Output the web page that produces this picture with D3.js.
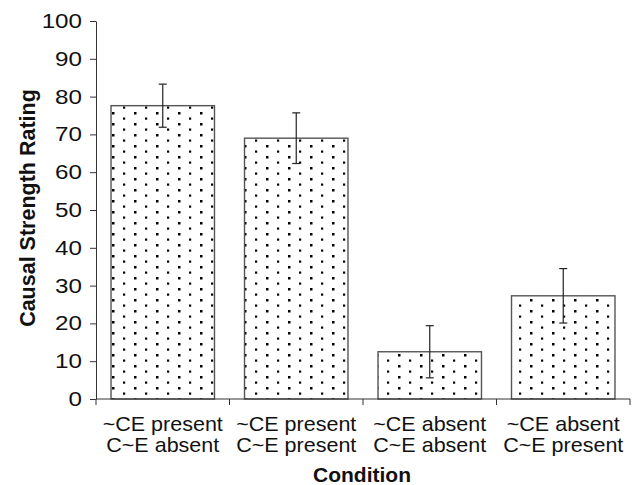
<!DOCTYPE html>
<html>
<head>
<meta charset="utf-8">
<script src="https://cdn.jsdelivr.net/npm/d3@7"></script>
<style>
  body { margin: 0; background: #fff; }
  svg text { font-family: "Liberation Sans", Arial, sans-serif; }
</style>
</head>
<body>
<div id="chart"></div>
<script>
// values
const conditions = [
    ["~CE present", "C~E absent"],
    ["~CE present", "C~E present"],
    ["~CE absent", "C~E absent"],
    ["~CE absent", "C~E present"]
];
const ratings = [77.6, 69.0, 12.5, 27.3];
const errors = [5.7, 6.7, 6.9, 7.2];
const yTicks = [0, 10, 20, 30, 40, 50, 60, 70, 80, 90, 100];

let chartWidth = 632, chartHeight = 485;
let plotLeft = 96, plotRight = 630, plotTop = 21, plotBottom = 399;

let svg = d3.select("#chart")
    .append("svg")
    .attr("width", chartWidth)
    .attr("height", chartHeight);

// dotted fill like the old excel pattern
let pat = svg.append("defs").append("pattern")
    .attr("id", "dots")
    .attr("patternUnits", "userSpaceOnUse")
    .attr("width", 22)
    .attr("height", 11);
pat.append("rect").attr("width", 22).attr("height", 11).attr("fill", "#fff");
pat.append("rect").attr("x", 2).attr("y", 2).attr("width", 2.5).attr("height", 2.5).attr("fill", "#000");
pat.append("rect").attr("x", 13).attr("y", 7.5).attr("width", 2.2).attr("height", 2.2).attr("fill", "#000");

let x = d3.scaleBand()
    .domain(d3.range(conditions.length))
    .range([plotLeft, plotRight])
    .paddingInner(0.225)
    .paddingOuter(0.1125);

let y = d3.scaleLinear()
    .domain([0, 100])
    .range([plotBottom, plotTop]);

// bars
svg.selectAll("rect.bar")
    .data(ratings)
    .enter()
    .append("rect")
    .attr("class", "bar")
    .attr("x", (d, i) => x(i))
    .attr("y", d => y(d))
    .attr("width", x.bandwidth())
    .attr("height", d => plotBottom - y(d))
    .attr("fill", "url(#dots)")
    .attr("stroke", "#555")
    .attr("stroke-width", 1.4);

// error bars
let eb = svg.selectAll("g.err")
    .data(ratings)
    .enter()
    .append("g")
    .attr("class", "err")
    .attr("stroke", "#222")
    .attr("stroke-width", 1.2);
eb.append("line")
    .attr("x1", (d, i) => x(i) + x.bandwidth() / 2)
    .attr("x2", (d, i) => x(i) + x.bandwidth() / 2)
    .attr("y1", (d, i) => y(d + errors[i]))
    .attr("y2", (d, i) => y(d - errors[i]));
[1, -1].forEach(s => {
    eb.append("line")
        .attr("x1", (d, i) => x(i) + x.bandwidth() / 2 - 4)
        .attr("x2", (d, i) => x(i) + x.bandwidth() / 2 + 4)
        .attr("y1", (d, i) => y(d + s * errors[i]))
        .attr("y2", (d, i) => y(d + s * errors[i]));
});

// y axis (the scanned font is wide, so stretch the labels a bit)
let yAxis = svg.append("g")
    .attr("transform", `translate(${plotLeft},0)`)
    .call(d3.axisLeft(y).tickValues(yTicks).tickSize(6).tickSizeOuter(0));
yAxis.selectAll("text")
    .attr("x", 0)
    .attr("transform", "translate(-14,0) scale(1.18,1)")
    .style("font-size", "20.5px")
    .attr("fill", "#111");

// x axis: ticks sit between the categories
let xAxis = svg.append("g")
    .attr("transform", `translate(0,${plotBottom})`);
xAxis.append("line")
    .attr("x1", plotLeft).attr("x2", plotRight)
    .attr("stroke", "#333");
let step = x.step();
xAxis.selectAll("line.sep")
    .data(d3.range(conditions.length + 1))
    .enter()
    .append("line")
    .attr("class", "sep")
    .attr("x1", i => plotLeft + i * step)
    .attr("x2", i => plotLeft + i * step)
    .attr("y1", 0).attr("y2", 6)
    .attr("stroke", "#333");

let xl = xAxis.selectAll("text.cat")
    .data(conditions)
    .enter()
    .append("text")
    .attr("class", "cat")
    .attr("text-anchor", "middle")
    .attr("transform", (d, i) => `translate(${x(i) + x.bandwidth() / 2},0) scale(1.05,1)`)
    .style("font-size", "20.5px")
    .attr("fill", "#111");
xl.append("tspan").attr("x", 0).attr("y", 32).text(d => d[0]);
xl.append("tspan").attr("x", 0).attr("y", 53.5).text(d => d[1]);

svg.selectAll(".domain, .tick line").attr("stroke", "#333");

// axis titles
svg.append("text")
    .attr("x", 362)
    .attr("y", 482)
    .attr("text-anchor", "middle")
    .style("font-size", "21px")
    .style("font-weight", "bold")
    .attr("fill", "#111")
    .text("Condition");

svg.append("text")
    .attr("transform", "translate(35,208)rotate(-90)")
    .attr("text-anchor", "middle")
    .style("font-size", "21.5px")
    .style("font-weight", "bold")
    .attr("fill", "#111")
    .text("Causal Strength Rating");
</script>
</body>
</html>
